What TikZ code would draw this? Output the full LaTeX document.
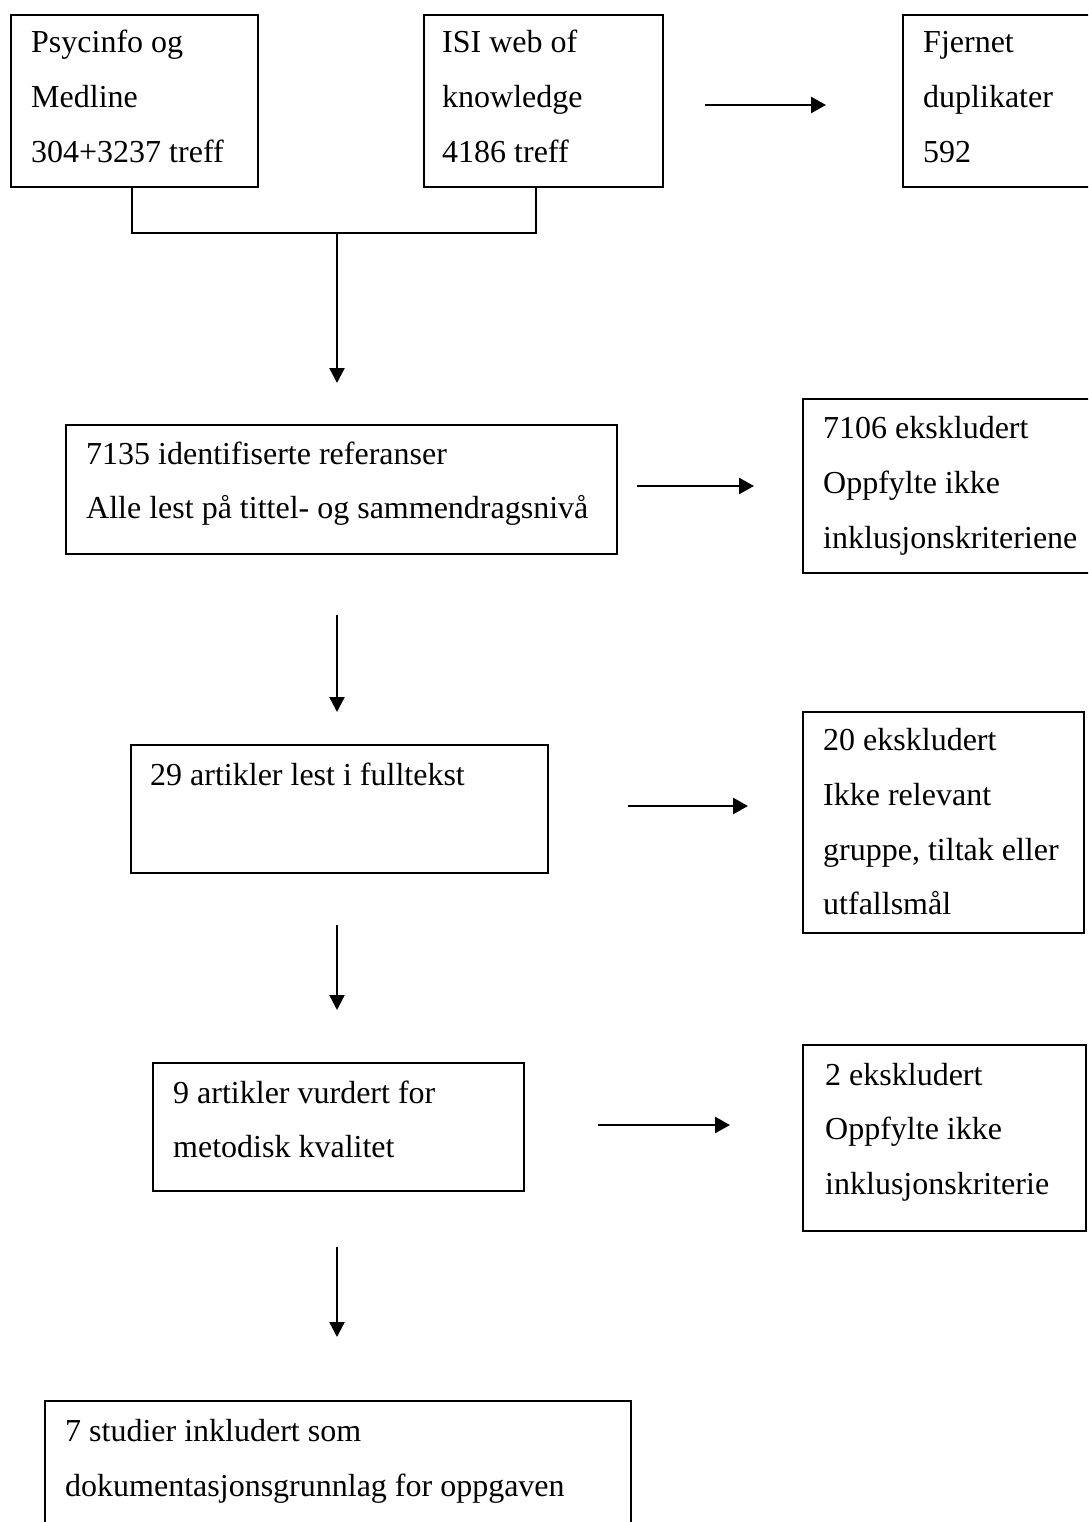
\documentclass[tikz,border=0pt]{standalone}
\usepackage{fontspec}
\setmainfont{Liberation Serif}
\usetikzlibrary{arrows.meta}
\begin{document}
\begin{tikzpicture}[x=1pt,y=-1pt,
  box/.style={draw=black, line width=1.7pt, rectangle, inner sep=0pt, anchor=north west},
  txt/.style={anchor=base west, inner sep=0pt, font=\fontsize{32}{55}\selectfont},
  arr/.style={line width=2.6pt, -{Triangle[length=15pt,width=16pt]}},
  varr/.style={line width=2.3pt, -{Triangle[length=15pt,width=15pt]}},
  link/.style={line width=2pt}]
\clip (0,0) rectangle (1088,1522);
\fill[white] (0,0) rectangle (1088,1522);

% boxes
\node[box, minimum width=247pt, minimum height=172pt] (A) at (10,14) {};
\node[box, minimum width=239pt, minimum height=172pt] (B) at (423,14) {};
\node[box, minimum width=200pt, minimum height=172pt] (C) at (902,14) {};
\node[box, minimum width=551pt, minimum height=129pt] (D) at (65,424) {};
\node[box, minimum width=300pt, minimum height=174pt] (E) at (802,398) {};
\node[box, minimum width=417pt, minimum height=128pt] (F) at (130,744) {};
\node[box, minimum width=281pt, minimum height=221pt] (G) at (802,711) {};
\node[box, minimum width=371pt, minimum height=128pt] (H) at (152,1062) {};
\node[box, minimum width=283pt, minimum height=186pt] (I) at (802,1044) {};
\node[box, minimum width=586pt, minimum height=160pt] (J) at (44,1400) {};

% texts
\node[txt] (A1) at (31,53) {Psycinfo og};
\node[txt] (A2) at (31,108) {Medline};
\node[txt] (A3) at (31,163) {304+3237 treff};
\node[txt] (B1) at (442,53) {ISI web of};
\node[txt] (B2) at (442,108) {knowledge};
\node[txt] (B3) at (442,163) {4186 treff};
\node[txt] (C1) at (923,53) {Fjernet};
\node[txt] (C2) at (923,108) {duplikater};
\node[txt] (C3) at (923,163) {592};
\node[txt] (D1) at (86,464) {7135 identifiserte referanser};
\node[txt] (D2) at (86,518) {Alle lest på tittel- og sammendragsnivå};
\node[txt] (E1) at (823,438) {7106 ekskludert};
\node[txt] (E2) at (823,493) {Oppfylte ikke};
\node[txt] (E3) at (823,548) {inklusjonskriteriene};
\node[txt] (F1) at (150,785) {29 artikler lest i fulltekst};
\node[txt] (G1) at (823,750) {20 ekskludert};
\node[txt] (G2) at (823,805) {Ikke relevant};
\node[txt] (G3) at (823,860) {gruppe, tiltak eller};
\node[txt] (G4) at (823,914) {utfallsmål};
\node[txt] (H1) at (173,1103) {9 artikler vurdert for};
\node[txt] (H2) at (173,1157) {metodisk kvalitet};
\node[txt] (I1) at (825,1085) {2 ekskludert};
\node[txt] (I2) at (825,1139) {Oppfylte ikke};
\node[txt] (I3) at (825,1194) {inklusjonskriterie};
\node[txt] (J1) at (65,1441) {7 studier inkludert som};
\node[txt] (J2) at (65,1496) {dokumentasjonsgrunnlag for oppgaven};

% connectors
\coordinate (j) at (337,233);
\coordinate (jtip) at (337,383);
\draw[link] ([xshift=-2.5pt]A.south) |- (j) -| ([xshift=-7.5pt]B.south);
\draw[varr] (j) -- (jtip);

\coordinate (bc1) at (705,105);
\coordinate (bc2) at (826,105);
\draw[arr] (bc1) -- (bc2);

\coordinate (de1) at (637,486);
\coordinate (de2) at (754,486);
\draw[arr] (de1) -- (de2);

\coordinate (df1) at (337,615);
\coordinate (df2) at (337,712);
\draw[varr] (df1) -- (df2);

\coordinate (fg1) at (628,806);
\coordinate (fg2) at (748,806);
\draw[arr] (fg1) -- (fg2);

\coordinate (fh1) at (337,925);
\coordinate (fh2) at (337,1010);
\draw[varr] (fh1) -- (fh2);

\coordinate (hi1) at (598,1125);
\coordinate (hi2) at (730,1125);
\draw[arr] (hi1) -- (hi2);

\coordinate (hj1) at (337,1247);
\coordinate (hj2) at (337,1337);
\draw[varr] (hj1) -- (hj2);
\end{tikzpicture}
\end{document}
